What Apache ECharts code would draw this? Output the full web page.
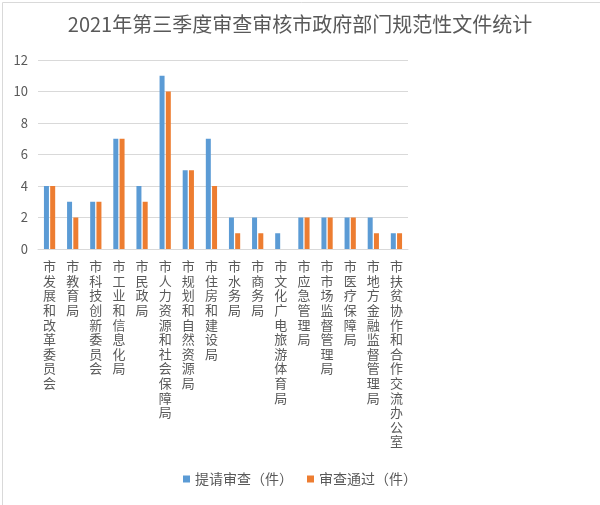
<!DOCTYPE html>
<html><head><meta charset="utf-8">
<script src="https://cdn.jsdelivr.net/npm/echarts@6/dist/echarts.min.js"></script>
<style>html,body{margin:0;padding:0;background:#fff}#c{width:600px;height:505px}</style>
</head><body><div id="c"></div>
<script>
const categories = ['市发展和改革委员会','市教育局','市科技创新委员会','市工业和信息化局','市民政局','市人力资源和社会保障局','市规划和自然资源局','市住房和建设局','市水务局','市商务局','市文化广电旅游体育局','市应急管理局','市市场监督管理局','市医疗保障局','市地方金融监督管理局','市扶贫协作和合作交流办公室'];
const submitted = [4,3,3,7,4,11,5,7,2,2,1,2,2,2,2,1];
const passed = [4,2,3,7,3,10,5,4,1,1,0,2,2,2,1,1];
const seriesNames = ['提请审查（件）','审查通过（件）'];
const chart = echarts.init(document.getElementById('c'));
const font = '"Noto Sans CJK SC","Microsoft YaHei",sans-serif';
chart.setOption({
  animation:false,
  textStyle:{fontFamily:font},
  graphic:[{type:'rect',left:0,top:0,shape:{x:0.5,y:0.5,width:599,height:504},style:{fill:'none',stroke:'#d9d9d9',lineWidth:1},silent:true}],
  title:{text:'2021年第三季度审查审核市政府部门规范性文件统计',left:'center',top:9,textStyle:{fontSize:20,fontWeight:'normal',color:'#595959',fontFamily:font}},
  legend:{bottom:14,left:'center',itemWidth:7,itemHeight:7,itemGap:14,icon:'rect',textStyle:{fontSize:14,color:'#595959',fontFamily:font},data:seriesNames},
  grid:{left:38,right:192,top:60,bottom:256,containLabel:false},
  xAxis:{type:'category',data:categories,axisLine:{lineStyle:{color:'#d9d9d9'}},axisTick:{show:false},
    axisLabel:{interval:0,color:'#595959',fontSize:13,lineHeight:14.6,margin:10,verticalAlign:'top',formatter:v=>v.split('').join('\n')}},
  yAxis:{type:'value',min:0,max:12,interval:2,axisLine:{show:false},axisTick:{show:false},
    splitLine:{lineStyle:{color:'#d9d9d9'}},axisLabel:{color:'#595959',fontSize:13,margin:10}},
  series:[
    {name:seriesNames[0],type:'bar',data:submitted,barWidth:5,barGap:'25%',itemStyle:{color:'#5B9BD5'}},
    {name:seriesNames[1],type:'bar',data:passed,barWidth:5,barGap:'25%',itemStyle:{color:'#ED7D31'}}
  ]
});
</script></body></html>
